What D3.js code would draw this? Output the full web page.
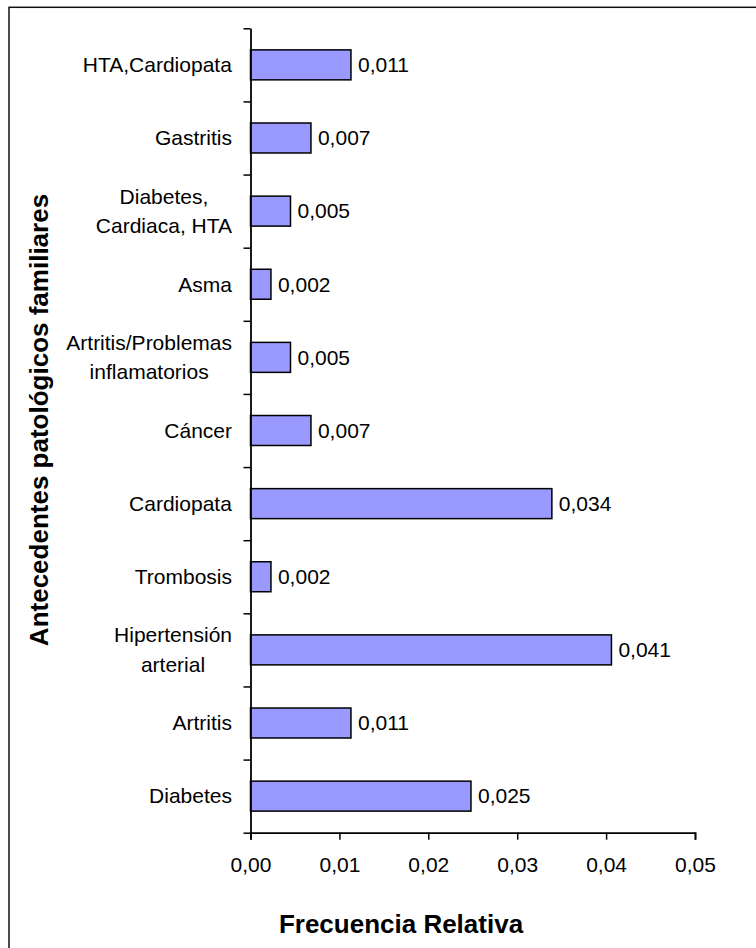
<!DOCTYPE html>
<html>
<head>
<meta charset="utf-8">
<script src="https://cdn.jsdelivr.net/npm/d3@7"></script>
<style>
  html, body { margin: 0; padding: 0; background: #fff; }
  svg { display: block; }
  text { font-family: "Liberation Sans", Arial, sans-serif; fill: #000; }
</style>
</head>
<body>
<svg id="chart" width="756" height="948"></svg>
<script>
// ---- data (top to bottom as drawn) ----
const categories = [
  ["HTA,Cardiopata"],
  ["Gastritis"],
  ["Diabetes,", "Cardiaca, HTA"],
  ["Asma"],
  ["Artritis/Problemas", "inflamatorios"],
  ["Cáncer"],
  ["Cardiopata"],
  ["Trombosis"],
  ["Hipertensión", "arterial"],
  ["Artritis"],
  ["Diabetes"]
];
const values = [0.0113, 0.0068, 0.0045, 0.0023, 0.0045, 0.0068, 0.0339, 0.0023, 0.0406, 0.0113, 0.0248];
const valueLabels = ["0,011", "0,007", "0,005", "0,002", "0,005", "0,007", "0,034", "0,002", "0,041", "0,011", "0,025"];
const xTicks = [0, 0.01, 0.02, 0.03, 0.04, 0.05];
const xTickLabels = ["0,00", "0,01", "0,02", "0,03", "0,04", "0,05"];
const xTitle = "Frecuencia Relativa";
const yTitle = "Antecedentes patológicos familiares";

// ---- layout ----
const plot = { left: 250.5, right: 695, top: 28.3, bottom: 832.7 };
const svg = d3.select("#chart");

// frame (only top and left edges fall inside the picture)
svg.append("rect")
  .attr("x", 9).attr("y", 7.3).attr("width", 900).attr("height", 1100)
  .attr("fill", "none").attr("stroke", "#111").attr("stroke-width", 1.5);

const x = d3.scaleLinear().domain([0, 0.05]).range([plot.left, plot.right]);
const y = d3.scaleBand().domain(d3.range(categories.length))
  .range([plot.top, plot.bottom]).paddingInner(0.59).paddingOuter(0.295);
const yEdge = d3.scaleLinear().domain([0, categories.length]).range([plot.top, plot.bottom]);

// bars
svg.append("g").selectAll("rect").data(values).join("rect")
  .attr("x", x(0))
  .attr("y", (d, i) => y(i))
  .attr("width", d => x(d) - x(0))
  .attr("height", y.bandwidth())
  .attr("fill", "#9999FF")
  .attr("stroke", "#000")
  .attr("stroke-width", 1.5);

// value labels
svg.append("g").selectAll("text").data(values).join("text")
  .attr("x", d => x(d) + 7)
  .attr("y", (d, i) => y(i) + y.bandwidth() / 2 + 7.35)
  .attr("font-size", 21)
  .text((d, i) => valueLabels[i]);

// x axis
const xAxis = d3.axisBottom(x).tickValues(xTicks)
  .tickFormat((d, i) => xTickLabels[i]).tickSize(7).tickPadding(17.5);
const gx = svg.append("g").attr("transform", `translate(0,${plot.bottom})`).call(xAxis);
gx.select(".domain").attr("stroke", "#000").attr("stroke-width", 1.8);
gx.selectAll(".tick line").attr("stroke", "#000").attr("stroke-width", 1.5);
gx.selectAll(".tick text").attr("font-size", 21)
  .attr("font-family", "'Liberation Sans', Arial, sans-serif").attr("fill", "#000");

// y axis (ticks on category boundaries)
const yAxis = d3.axisLeft(yEdge).tickValues(d3.range(categories.length + 1))
  .tickFormat("").tickSize(7).tickSizeOuter(0);
const gy = svg.append("g").attr("transform", `translate(${plot.left},0)`).call(yAxis);
gy.select(".domain").attr("stroke", "#000").attr("stroke-width", 1.8);
gy.selectAll(".tick line").attr("stroke", "#000").attr("stroke-width", 1.5);

// category labels: block right-aligned at 232, lines centered in block
const lineH = 29.5;
const labelRight = 232;
const cl = svg.append("g");
categories.forEach((lines, i) => {
  const cy = y(i) + y.bandwidth() / 2;
  const t = cl.append("text").attr("font-size", 21).attr("text-anchor", "middle");
  lines.forEach((ln, j) => {
    t.append("tspan")
      .attr("x", 0)
      .attr("y", cy + 7.35 - (lines.length - 1) * lineH / 2 + j * lineH)
      .text(ln);
  });
  const w = t.node().getBBox().width;
  t.selectAll("tspan").attr("x", labelRight - w / 2);
});

// axis titles
svg.append("text")
  .attr("x", 401).attr("y", 933)
  .attr("text-anchor", "middle")
  .attr("font-size", 26).attr("font-weight", "bold")
  .text(xTitle);

svg.append("text")
  .attr("transform", "translate(47.5,420) rotate(-90)")
  .attr("text-anchor", "middle")
  .attr("font-size", 26).attr("font-weight", "bold")
  .text(yTitle);
</script>
</body>
</html>
